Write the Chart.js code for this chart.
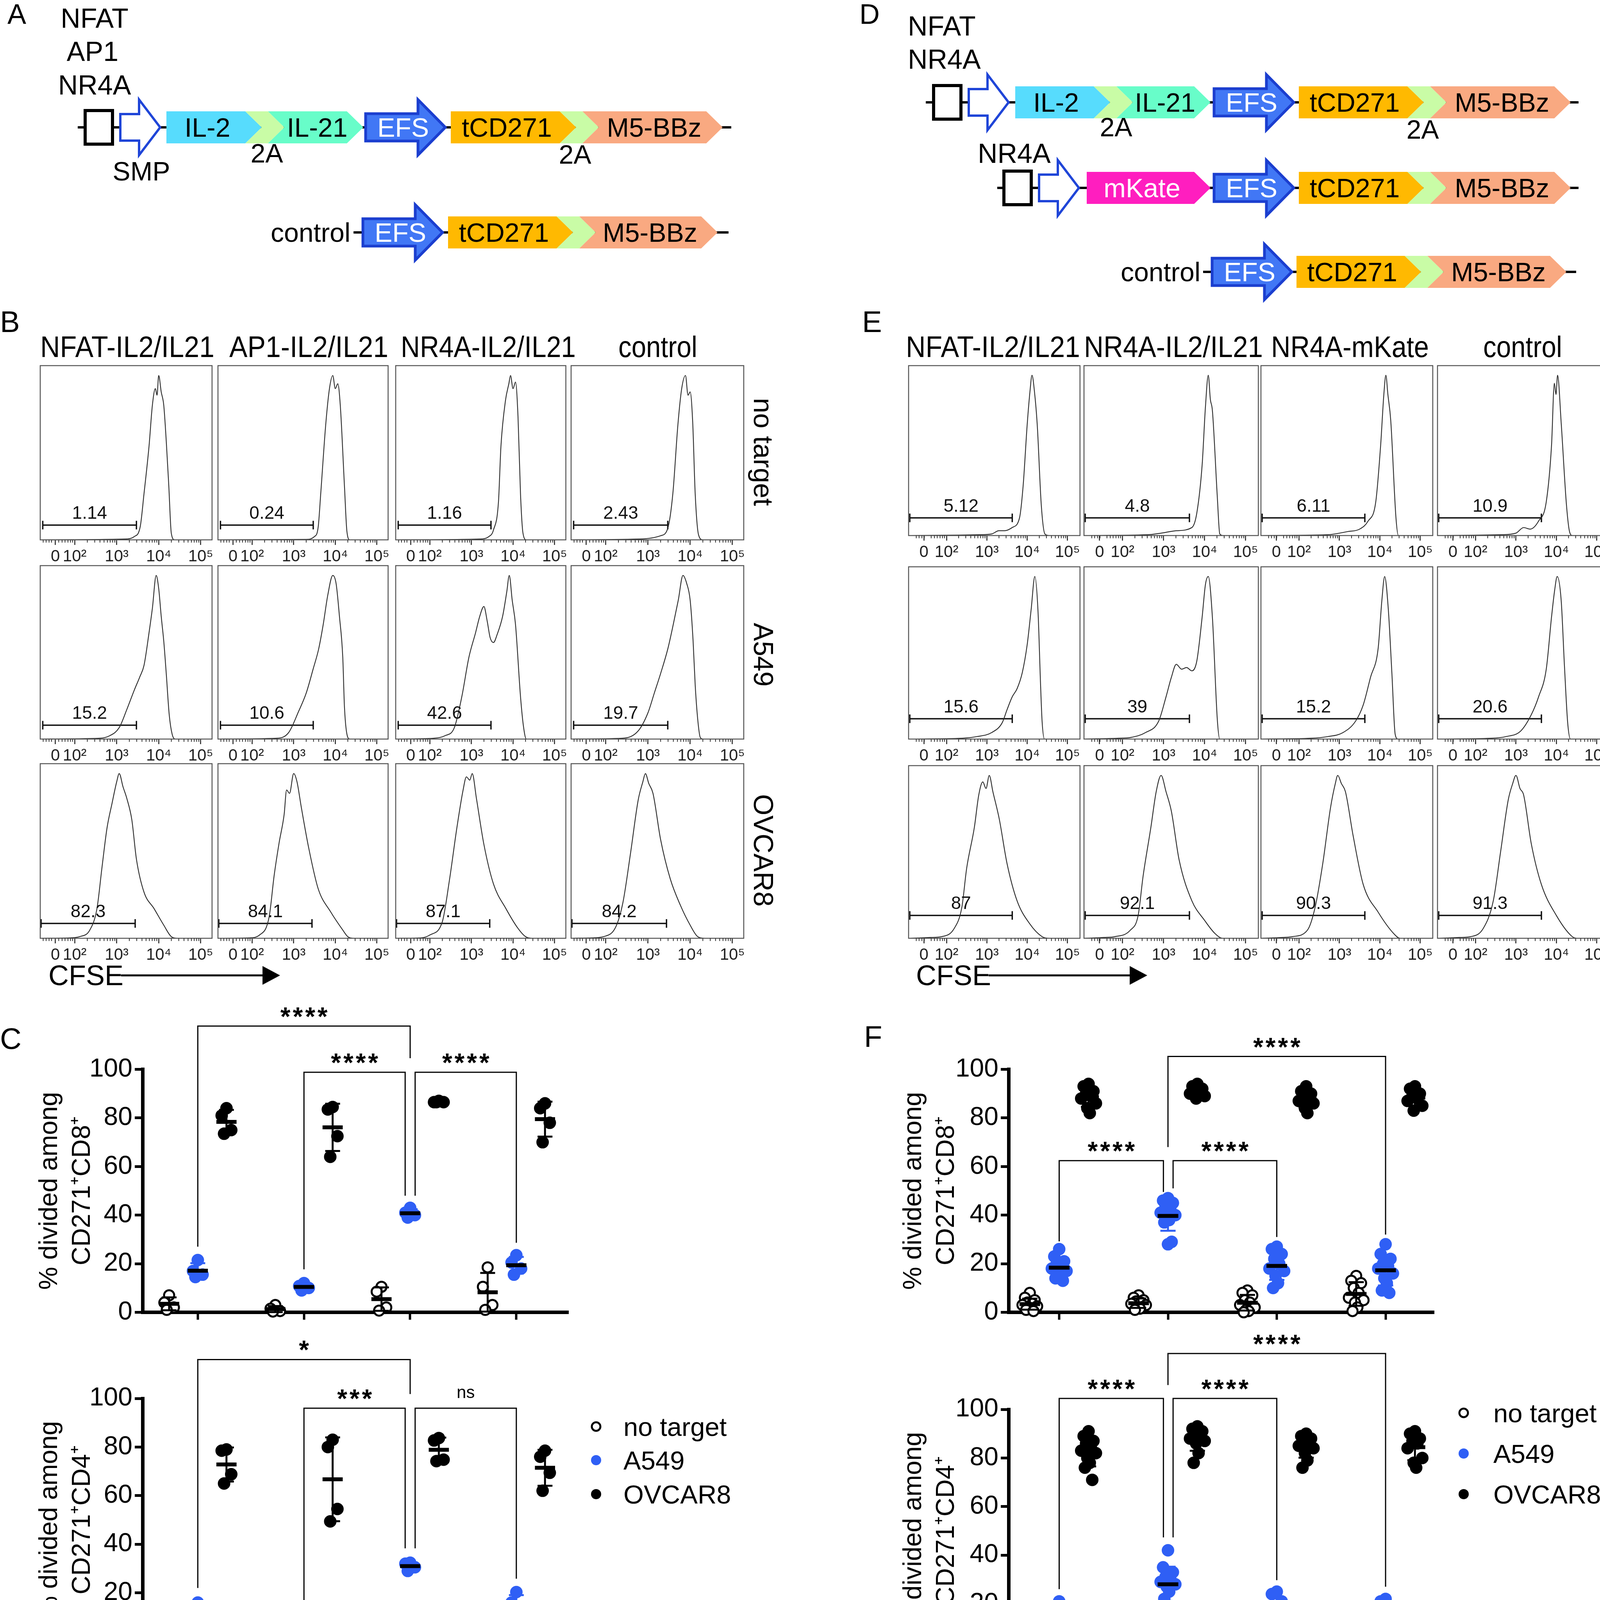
<!DOCTYPE html>
<html>
<head>
<meta charset="utf-8">
<script src="https://cdn.jsdelivr.net/npm/chart.js@4.4.1/dist/chart.umd.min.js"></script>
<style>
  body { margin: 0; background: #fff; }
  #page { position: relative; width: 4192px; height: 4626px; overflow: hidden; background: #fff; }
  #art { position: absolute; left: 0; top: 0; }
  #art text { font-family: 'Liberation Sans', Arial, Helvetica, sans-serif; }
</style>
</head>
<body>
<div id="page">
  <svg id="art" width="4192" height="4626" viewBox="0 0 4192 4626"></svg>
</div>
<script>
// ---------- data ----------
const colsB = ['NFAT-IL2/IL21', 'AP1-IL2/IL21', 'NR4A-IL2/IL21', 'control'];
const colsE = ['NFAT-IL2/IL21', 'NR4A-IL2/IL21', 'NR4A-mKate', 'control'];
const rowLabels = ['no target', 'A549', 'OVCAR8'];
const legendLabels = ['no target', 'A549', 'OVCAR8'];

const histTickLabels = ['0', '10²', '10³', '10⁴', '10⁵'];
const histTickPosB = [1.54, 2, 3, 4, 5];
const histTickPosE = [1.44, 2, 3, 4, 5];

const gateB = [['1.14', '0.24', '1.16', '2.43'], ['15.2', '10.6', '42.6', '19.7'], ['82.3', '84.1', '87.1', '84.2']];
const gateE = [['5.12', '4.8', '6.11', '10.9'], ['15.6', '39', '15.2', '20.6'], ['87', '92.1', '90.3', '91.3']];

// histogram traces, [CFSE decade position, % of mode]
const histB_noTarget = [
  [[1.2,0],[3.2,0.5],[3.42,2],[3.56,8],[3.65,28],[3.77,57],[3.85,82],[3.92,92],[3.96,88],[4.0,100],[4.06,90],[4.12,82],[4.18,60],[4.24,33],[4.3,4],[4.38,0],[5.27,0]],
  [[1.2,0],[3.3,0.3],[3.5,2],[3.59,8],[3.65,28],[3.77,70],[3.86,92],[3.94,100],[4.0,92],[4.06,95],[4.12,82],[4.22,33],[4.28,5],[4.35,0],[5.27,0]],
  [[1.2,0],[3.2,0.5],[3.42,2],[3.53,6],[3.65,23],[3.71,57],[3.82,85],[3.9,95],[3.94,100],[4.0,92],[4.06,96],[4.12,75],[4.18,28],[4.24,4],[4.32,0],[5.27,0]],
  [[1.2,0],[2.8,0.5],[3.3,2.5],[3.47,7],[3.59,28],[3.71,70],[3.8,92],[3.89,100],[3.95,88],[4.0,90],[4.06,72],[4.12,28],[4.2,3],[4.3,0],[5.27,0]]
];
const histB_a549 = [
  [[1.2,0],[2.6,0.5],[2.83,2],[3.06,7],[3.24,18],[3.42,30],[3.55,38],[3.65,45],[3.77,65],[3.85,80],[3.94,100],[4.0,92],[4.06,75],[4.12,60],[4.18,40],[4.25,15],[4.32,3],[4.4,0],[5.27,0]],
  [[1.2,0],[2.6,0.5],[2.88,4],[3.12,17],[3.3,28],[3.47,43],[3.6,55],[3.71,70],[3.82,88],[3.94,100],[4.02,95],[4.1,75],[4.18,50],[4.22,20],[4.28,3],[4.35,0],[5.27,0]],
  [[1.2,0],[2.1,0.5],[2.36,2],[2.59,7],[2.77,26],[2.94,50],[3.1,65],[3.2,75],[3.3,81],[3.38,72],[3.45,62],[3.53,59],[3.62,64],[3.75,75],[3.85,90],[3.91,100],[3.98,85],[4.06,70],[4.18,26],[4.25,8],[4.32,0],[5.27,0]],
  [[1.2,0],[2.4,0.5],[2.77,5],[3.0,16],[3.15,28],[3.3,40],[3.47,55],[3.6,70],[3.72,85],[3.83,100],[3.92,95],[4.0,85],[4.07,60],[4.12,33],[4.18,12],[4.24,1],[4.3,0],[5.27,0]]
];
const histB_ovcar8 = [
  [[1.2,0],[1.9,0.3],[2.12,1],[2.36,5],[2.53,18],[2.65,43],[2.77,67],[2.89,82],[3.0,95],[3.06,100],[3.15,92],[3.24,85],[3.36,72],[3.47,48],[3.65,28],[3.89,18],[4.12,8],[4.3,1],[4.45,0],[5.27,0]],
  [[1.2,0],[1.95,0.3],[2.18,2],[2.41,13],[2.53,38],[2.65,58],[2.77,75],[2.83,90],[2.9,88],[3.0,100],[3.08,95],[3.18,80],[3.36,55],[3.59,30],[3.89,16],[4.18,5],[4.3,1],[4.45,0],[5.27,0]],
  [[1.2,0],[1.8,0.3],[2.0,2],[2.3,10],[2.47,35],[2.65,67],[2.8,90],[2.88,98],[2.96,96],[3.02,100],[3.12,85],[3.3,57],[3.53,33],[3.83,18],[4.12,6],[4.3,1],[4.45,0],[5.27,0]],
  [[1.2,0],[1.7,0.3],[1.95,1],[2.24,7],[2.41,22],[2.59,52],[2.77,84],[2.88,95],[2.94,100],[3.02,94],[3.12,88],[3.3,60],[3.53,36],[3.77,20],[4.0,8],[4.18,1],[4.35,0],[5.27,0]]
];
const histE_noTarget = [
  [[1.08,0],[2.8,0.5],[3.12,1],[3.3,3],[3.44,3],[3.63,5],[3.81,11],[3.9,31],[4.0,69],[4.07,90],[4.12,100],[4.18,90],[4.25,69],[4.35,19],[4.44,1],[4.55,0],[5.31,0]],
  [[1.08,0],[2.6,0.5],[2.94,1.5],[3.31,3],[3.69,5],[3.81,14],[3.94,44],[4.02,80],[4.09,100],[4.14,85],[4.19,78],[4.31,24],[4.37,1],[4.45,0],[5.31,0]],
  [[1.08,0],[2.7,0.5],[3.21,2.5],[3.5,4],[3.71,9],[3.9,21],[4.02,56],[4.1,88],[4.15,100],[4.2,88],[4.27,72],[4.4,11],[4.46,0],[5.31,0]],
  [[1.08,0],[2.62,0.5],[3.0,1.5],[3.19,5],[3.35,4],[3.56,9],[3.75,21],[3.88,56],[3.95,95],[3.99,88],[4.03,100],[4.12,70],[4.25,19],[4.33,2],[4.4,0],[5.31,0]]
];
const histE_a549 = [
  [[1.08,0],[2.4,0.5],[2.75,1.5],[3.12,4],[3.38,10],[3.5,18],[3.63,26],[3.75,31],[3.88,41],[4.0,58],[4.1,80],[4.19,100],[4.27,78],[4.33,35],[4.37,11],[4.43,0],[5.31,0]],
  [[1.08,0],[1.9,0.5],[2.2,1],[2.56,4],[2.88,11],[3.06,26],[3.19,38],[3.31,46],[3.44,43],[3.56,44],[3.69,42],[3.81,48],[3.94,75],[4.02,95],[4.09,100],[4.19,75],[4.31,12],[4.37,0],[5.31,0]],
  [[1.08,0],[2.3,0.5],[2.71,1.5],[3.09,4],[3.4,11],[3.59,21],[3.77,38],[3.96,56],[4.05,85],[4.12,100],[4.21,80],[4.3,40],[4.38,3],[4.45,0],[5.31,0]],
  [[1.08,0],[2.4,0.5],[2.75,1.5],[3.12,5],[3.38,15],[3.56,26],[3.75,43],[3.88,75],[3.96,92],[4.02,100],[4.12,85],[4.2,45],[4.28,10],[4.35,0],[5.31,0]]
];
const histE_ovcar8 = [
  [[1.08,0],[1.6,0.5],[1.88,1],[2.19,6],[2.38,19],[2.5,43],[2.69,68],[2.8,88],[2.9,96],[2.98,92],[3.06,100],[3.15,90],[3.31,73],[3.5,46],[3.75,23],[4.06,9],[4.37,1],[4.55,0],[5.31,0]],
  [[1.08,0],[1.55,0.5],[1.81,1],[2.19,5],[2.38,14],[2.5,38],[2.69,68],[2.82,90],[2.94,100],[3.06,90],[3.19,78],[3.38,48],[3.69,23],[4.0,11],[4.25,3],[4.44,0],[5.31,0]],
  [[1.08,0],[1.6,0.5],[1.84,1],[2.21,5],[2.4,19],[2.59,46],[2.78,80],[2.9,95],[2.96,100],[3.05,95],[3.15,90],[3.34,63],[3.59,33],[3.96,16],[4.34,3],[4.5,0],[5.31,0]],
  [[1.08,0],[1.6,0.5],[1.88,1],[2.19,6],[2.44,23],[2.62,53],[2.81,85],[2.92,95],[3.0,100],[3.1,92],[3.19,88],[3.38,58],[3.63,33],[4.0,14],[4.37,1.5],[4.5,0],[5.31,0]]
];

// % divided, one list per construct (C: n=4, F: n≈10)
const cd8C_noTarget = [[7, 4, 2, 1], [3, 1.5, 0.5, 0.3], [10.5, 8.5, 2, 0.7], [18.5, 10.5, 3, 1]];
const cd8C_a549 = [[21.5, 17, 15.5, 14.5], [12, 10.8, 10, 9], [43, 41, 40, 39], [23.5, 20.5, 18, 15.5]];
const cd8C_ovcar8 = [[84, 81, 75, 73.5], [84.5, 83.5, 72.5, 64], [87, 86.5, 86.5, 86.5], [86, 84, 78, 70]];
const cd4C_noTarget = [[7, 5.8, 2.8, 0.4], [3.4, 1.6, 0.4, 0], [12.5, 8.8, 1, 0.4], [10.7, 8.8, 2.8, 0.4]];
const cd4C_a549 = [[16, 14.3, 11.3, 8.8], [8, 7, 6.5, 5.5], [32.4, 32, 30.5, 29], [20.3, 16, 14.3, 13.7]];
const cd4C_ovcar8 = [[79, 78.5, 68.8, 65], [83, 80, 54.5, 49.4], [83.7, 82.7, 74.8, 74.2], [78.5, 76, 69.4, 62]];

const cd8F_noTarget = [[8, 6, 5, 4, 3.5, 3, 2.5, 2, 1.5, 1, 0.5], [7, 6, 5, 4.5, 4, 3.5, 3, 2, 1.5, 1], [9, 8, 7, 5, 4, 3, 2, 1, 0.5, 0], [15, 13, 12, 10, 8, 6, 5, 4, 2, 0.5]];
const cd8F_a549 = [[26, 23, 21, 20, 19, 18, 17, 16, 15, 14, 13], [47, 46, 45, 44, 42, 41, 40, 39, 38, 37, 29, 28], [27, 26, 24, 22, 20, 18, 17, 15, 12, 10], [28, 24, 22, 20, 19, 18, 16, 14, 12, 9, 8]];
const cd8F_ovcar8 = [[94, 93, 91, 90, 89, 88, 86, 84, 82], [94, 93, 92, 91, 90, 90, 89, 88], [93, 91, 90, 89, 88, 87, 86, 84, 82], [93, 92, 90, 89, 88, 87, 85, 83]];
const cd4F_noTarget = [[6, 5, 4.5, 4, 3, 2.5, 2, 1.5, 1, 0.5], [7, 6, 4, 3, 2.5, 2, 1.5, 1, 0.5, 0.5], [9, 8, 7, 6, 5, 4, 3, 2, 1, 0], [15, 13, 11, 9, 7, 5, 4, 2, 1, 0]];
const cd4F_a549 = [[21, 16, 14, 13, 12, 11, 10, 9, 8, 6, 5], [42, 35, 33, 31, 30, 29, 28, 27, 25, 22, 19, 15], [25, 24, 21, 19, 17, 16, 15, 14, 13, 11], [22, 21, 19, 17, 15, 14, 13, 12, 11, 10, 8]];
const cd4F_ovcar8 = [[91, 89, 87, 86, 84, 83, 82, 80, 78, 76, 71], [93, 92, 91, 90, 89, 88, 87, 86, 82, 78], [90, 89, 88, 87, 86, 85, 84, 82, 79, 76], [91, 90, 88, 87, 86, 84, 80, 78, 76]];

// significance brackets: [from group, to group, bar level, left foot, right foot, label]
const bracketsC8 = [[1, 3, 117.8, 27, 104.6, '****'], [2, 2.953, 98.8, 17.7, 48, '****'], [3.047, 4, 98.8, 48, 28.6, '****']];
const bracketsC4 = [[1, 3, 116, 22, 101.8, '*'], [2, 2.953, 96, 13.3, 38.3, '***'], [3.047, 4, 96, 38.3, 25.8, 'ns']];
const bracketsF8 = [[2, 4, 105.3, 68, 32, '****'], [1, 1.958, 62.4, 29.2, 49.5, '****'], [2.047, 3, 62.4, 51, 31, '****']];
const bracketsF4 = [[2, 4, 123, 110, 27, '****'], [1, 1.958, 104.5, 26, 47.3, '****'], [2.047, 3, 104.5, 47.3, 29.7, '****']];

// ---------- static artwork (constructs, labels) ----------
const FONT = "'Liberation Sans', Arial, Helvetica, sans-serif";
const art = document.getElementById('art');
const page = document.getElementById('page');
function sv(tag, a, text) {
  const e = document.createElementNS('http://www.w3.org/2000/svg', tag);
  for (const k in a) e.setAttribute(k, a[k]);
  if (text !== undefined) e.textContent = text;
  art.appendChild(e);
  return e;
}
function label(x, y, s, size, extra) {
  return sv('text', Object.assign({x: x, y: y, 'font-size': size, fill: '#000'}, extra || {}), s);
}
function poly(pts, fill, stroke, sw) {
  const a = {points: pts.map(p => p.join(',')).join(' '), fill: fill};
  if (stroke) { a.stroke = stroke; a['stroke-width'] = sw; a['stroke-linejoin'] = 'miter'; }
  return sv('polygon', a);
}
const BH = 41, TIP = 42;
function block(x0, x1, cy, fill, name, notch, color) {
  const p = [[x0, cy - BH], [x1, cy - BH], [x1 + TIP, cy], [x1, cy + BH], [x0, cy + BH]];
  if (notch) p.push([x0 + TIP, cy]);
  poly(p, fill);
  if (name) label((x0 + (notch ? TIP : 0) + x1) / 2 + 4, cy + 24, name, 68, {'text-anchor': 'middle', fill: color || '#000'});
}
function twoA(x0, cy) { block(x0, x0 + 58, cy, '#c9fca6', null, true); }
function efs(x0, cy) {
  poly([[x0, cy - 35], [x0 + 134, cy - 35], [x0 + 134, cy - 71], [x0 + 204, cy], [x0 + 134, cy + 71], [x0 + 134, cy + 35], [x0, cy + 35]], '#4177f5', '#1b3ecf', 7);
  label(x0 + 96, cy + 24, 'EFS', 68, {'text-anchor': 'middle', fill: '#fff'});
}
function promoter(xb, cy) {
  sv('rect', {x: xb + 4, y: cy - 43, width: 70, height: 86, fill: '#fff', stroke: '#000', 'stroke-width': 8});
  poly([[xb + 94, cy - 34], [xb + 142, cy - 34], [xb + 142, cy - 71], [xb + 196, cy], [xb + 142, cy + 71], [xb + 142, cy + 34], [xb + 94, cy + 34]], '#fff', '#1f45d8', 6);
}
function baseLine(x0, x1, cy) { sv('line', {x1: x0, y1: cy, x2: x1, y2: cy, stroke: '#000', 'stroke-width': 6}); }

const IL2C = '#57dcfd', IL21C = '#68fdc9', TCD = '#ffb901', M5C = '#f9a981', MKATE = '#ff1ebf';

// panel A
label(19, 61, 'A', 72);
label(242, 71, 'NFAT', 70, {'text-anchor': 'middle'});
label(237, 156, 'AP1', 70, {'text-anchor': 'middle'});
label(242, 242, 'NR4A', 70, {'text-anchor': 'middle'});
baseLine(199, 1872, 326);
promoter(214, 326);
block(426, 628, 326, IL2C, 'IL-2');
twoA(628, 326);
block(686, 888, 326, IL21C, 'IL-21', true);
efs(936, 326);
block(1154, 1433, 326, TCD, 'tCD271');
twoA(1433, 326);
block(1491, 1808, 326, M5C, 'M5-BBz', true);
label(362, 462, 'SMP', 68, {'text-anchor': 'middle'});
label(683, 416, '2A', 68, {'text-anchor': 'middle'});
label(1472, 419, '2A', 68, {'text-anchor': 'middle'});
baseLine(905, 1865, 595);
label(897, 619, 'control', 68, {'text-anchor': 'end'});
efs(929, 595);
block(1147, 1425, 595, TCD, 'tCD271');
twoA(1425, 595);
block(1483, 1795, 595, M5C, 'M5-BBz', true);

// panel D
label(2200, 61, 'D', 72);
label(2324, 91, 'NFAT', 70);
label(2324, 176, 'NR4A', 70);
baseLine(2370, 4041, 262);
promoter(2386, 262);
block(2599, 2800, 262, IL2C, 'IL-2');
twoA(2800, 262);
block(2858, 3057, 262, IL21C, 'IL-21', true);
efs(3108, 262);
block(3325, 3603, 262, TCD, 'tCD271');
twoA(3603, 262);
block(3661, 3979, 262, M5C, 'M5-BBz', true);
label(2857, 349, '2A', 68, {'text-anchor': 'middle'});
label(3642, 355, '2A', 68, {'text-anchor': 'middle'});
label(2503, 417, 'NR4A', 70);
baseLine(2553, 4041, 481);
promoter(2566, 481);
block(2782, 3057, 481, MKATE, 'mKate', false, '#fff');
efs(3108, 481);
block(3325, 3603, 481, TCD, 'tCD271');
twoA(3603, 481);
block(3661, 3979, 481, M5C, 'M5-BBz', true);
baseLine(3080, 4035, 696);
label(3073, 720, 'control', 68, {'text-anchor': 'end'});
efs(3103, 696);
block(3319, 3596, 696, TCD, 'tCD271');
twoA(3596, 696);
block(3654, 3968, 696, M5C, 'M5-BBz', true);

// panel letters
label(0, 850, 'B', 76);
label(2207, 850, 'E', 76);
label(0, 2685, 'C', 76);
label(2212, 2680, 'F', 76);

// column headers (x, width)
const headB = [[103, 446], [587, 407], [1026, 448], [1583, 202]];
const headE = [[2319, 446], [2775, 458], [3254, 404], [3797, 202]];
colsB.forEach((s, i) => label(headB[i][0], 914, s, 76, {textLength: headB[i][1], lengthAdjust: 'spacingAndGlyphs'}));
colsE.forEach((s, i) => label(headE[i][0], 914, s, 76, {textLength: headE[i][1], lengthAdjust: 'spacingAndGlyphs'}));

// row labels (rotated)
const rowCy = [1157, 1676, 2177];
[1955, 4162].forEach(cx => rowLabels.forEach((s, i) => {
  label(cx, rowCy[i] + 25, s, 70, {'text-anchor': 'middle', transform: `rotate(90 ${cx} ${rowCy[i]})`});
}));

// CFSE arrows
function cfse(x, lineEnd, tip) {
  label(x, 2522, 'CFSE', 72);
  sv('line', {x1: x + 186, y1: 2497, x2: lineEnd, y2: 2497, stroke: '#000', 'stroke-width': 5});
  poly([[lineEnd - 8, 2473], [tip, 2497], [lineEnd - 8, 2521]], '#000');
}
cfse(124, 680, 717);
cfse(2345, 2900, 2937);

// legends
const legendFill = ['#fff', '#2f5ff5', '#000'];
function legend(mx, tx, ys) {
  ys.forEach((y, i) => {
    if (i === 0) sv('circle', {cx: mx, cy: y, r: 11, fill: '#fff', stroke: '#000', 'stroke-width': 5});
    else sv('circle', {cx: mx, cy: y, r: 13, fill: legendFill[i]});
    label(tx, y + 24, legendLabels[i], 67);
  });
}
legend(1526, 1596, [3652, 3738, 3825]);
legend(3747, 3823, [3617, 3721, 3825]);

// ---------- charts ----------
Chart.defaults.font.family = FONT;
Chart.defaults.color = '#000';

function makeCanvas(x, y, w, h) {
  const c = document.createElement('canvas');
  c.width = w; c.height = h;
  c.style.cssText = `position:absolute;left:${x}px;top:${y}px;width:${w}px;height:${h}px;`;
  page.appendChild(c);
  return c;
}

const linearMinor = [1.25, 1.32, 1.39, 1.45, 1.62, 1.7, 1.77, 1.84, 1.9, 1.95];
const histExtras = {
  id: 'histExtras',
  afterDraw(chart, args, o) {
    const {ctx, chartArea: a} = chart;
    const x = chart.scales.x, y = chart.scales.y;
    ctx.save();
    ctx.strokeStyle = '#555';
    ctx.lineWidth = 2.5;
    ctx.strokeRect(a.left, a.top, a.right - a.left, a.bottom - a.top);
    // minor ticks of the log axis
    const minors = linearMinor.slice();
    for (let d = 2; d <= 4; d++) for (let m = 2; m <= 9; m++) minors.push(d + Math.log10(m));
    ctx.strokeStyle = '#333';
    ctx.lineWidth = 2;
    ctx.beginPath();
    minors.forEach(v => {
      if (v <= x.min || v >= x.max) return;
      const px = x.getPixelForValue(v);
      ctx.moveTo(px, a.bottom);
      ctx.lineTo(px, a.bottom + 7);
    });
    ctx.stroke();
    ctx.fillStyle = '#111';
    ctx.font = `46px ${FONT}`;
    ctx.textAlign = 'center';
    ctx.textBaseline = 'bottom';
    ctx.fillText(o.label, x.getPixelForValue((o.g1 + o.g2) / 2), y.getPixelForValue(o.gy) - 6);
    ctx.restore();
  }
};

function histChart(x0, x1, y0, y1, pts, gate, axis) {
  const w = x1 - x0 + 4, h = y1 - y0 + 4 + 76;
  const cv = makeCanvas(x0 - 2, y0 - 2, w, h);
  new Chart(cv, {
    type: 'scatter',
    data: {
      datasets: [
        {data: pts, showLine: true, pointRadius: 0, borderColor: '#2a2a2a', borderWidth: 2.2, cubicInterpolationMode: 'monotone', fill: false},
        {data: [[gate.g1, gate.gy], [gate.g2, gate.gy]], showLine: true, borderColor: '#111', borderWidth: 3.5,
          pointStyle: 'line', pointRotation: 90, pointRadius: 11, pointBorderWidth: 3.5, pointBorderColor: '#111'}
      ]
    },
    options: {
      animation: false, responsive: false, devicePixelRatio: 1,
      layout: {padding: {left: 2, right: 2, top: 2, bottom: 0}, autoPadding: false},
      plugins: {legend: {display: false}, tooltip: {enabled: false}, histExtras: gate},
      scales: {
        x: {
          type: 'linear', min: axis.min, max: axis.max,
          afterBuildTicks: s => { s.ticks = axis.pos.map(v => ({value: v})); },
          afterFit: s => { s.height = 76; },
          border: {display: false},
          grid: {drawOnChartArea: false, drawTicks: true, tickLength: 13, tickWidth: 2.5, tickColor: '#222'},
          ticks: {autoSkip: false, maxRotation: 0, minRotation: 0, padding: 5, color: '#222', font: {size: 42},
            callback: (v, i) => histTickLabels[i]}
        },
        y: {display: false, min: 0, max: 106}
      }
    },
    plugins: [histExtras]
  });
}

const colXB = [[103, 549], [558, 1000], [1013, 1455], [1462, 1910]];
const rowYB = [[936, 1380], [1448, 1890], [1955, 2400]];
const colXE = [[2326, 2768], [2775, 3224], [3228, 3671], [3680, 4123]];
const rowYE = [[936, 1369], [1451, 1890], [1960, 2400]];
const histB = [histB_noTarget, histB_a549, histB_ovcar8];
const histE = [histE_noTarget, histE_a549, histE_ovcar8];
const gateYB = [9, 8.5, 9];
const gateYE = [11, 12.5, 14];
const axisB = {min: 1.18, max: 5.27, pos: histTickPosB};
const axisE = {min: 1.06, max: 5.31, pos: histTickPosE};

for (let r = 0; r < 3; r++) {
  for (let c = 0; c < 4; c++) {
    histChart(colXB[c][0], colXB[c][1], rowYB[r][0], rowYB[r][1], histB[r][c],
      {label: gateB[r][c], g1: r === 2 ? 1.2 : 1.24, g2: r === 2 ? 3.44 : 3.47, gy: gateYB[r]}, axisB);
    histChart(colXE[c][0], colXE[c][1], rowYE[r][0], rowYE[r][1], histE[r][c],
      {label: gateE[r][c], g1: 1.09, g2: 3.63, gy: gateYE[r]}, axisE);
  }
}

// dot plots
function mean(a) { return a.reduce((s, v) => s + v, 0) / a.length; }
function stdev(a) { const m = mean(a); return Math.sqrt(a.reduce((s, v) => s + (v - m) * (v - m), 0) / (a.length - 1)); }
const jit = [0, -1, 1, -0.5, 0.5, -1.5, 1.5, -0.25, 0.25, -0.75, 0.75, 0];
const OFF = [-0.27, 0, 0.27];
const BLUE = '#2f5ff5';

const dotExtras = {
  id: 'dotExtras',
  afterDatasetsDraw(chart, args, o) {
    const {ctx} = chart;
    const xs = chart.scales.x, ys = chart.scales.y;
    const px = v => xs.getPixelForValue(v), py = v => ys.getPixelForValue(v);
    ctx.save();
    o.series.forEach((vals4, si) => {
      vals4.forEach((vals, gi) => {
        const m = mean(vals), sd = stdev(vals), c = gi + 1 + OFF[si];
        const lo = Math.max(0, m - sd), hi = m + sd;
        ctx.strokeStyle = si === 1 ? BLUE : '#000';
        ctx.lineWidth = 5;
        ctx.beginPath();
        ctx.moveTo(px(c), py(lo)); ctx.lineTo(px(c), py(hi));
        ctx.moveTo(px(c - 0.07), py(hi)); ctx.lineTo(px(c + 0.07), py(hi));
        if (m - sd > 0) { ctx.moveTo(px(c - 0.07), py(lo)); ctx.lineTo(px(c + 0.07), py(lo)); }
        ctx.stroke();
        ctx.strokeStyle = '#000';
        ctx.lineWidth = 10;
        ctx.beginPath();
        ctx.moveTo(px(c - 0.095), py(m)); ctx.lineTo(px(c + 0.095), py(m));
        ctx.stroke();
      });
    });
    ctx.strokeStyle = '#000';
    ctx.lineWidth = 3;
    ctx.fillStyle = '#000';
    ctx.textAlign = 'center';
    ctx.textBaseline = 'alphabetic';
    o.brackets.forEach(b => {
      ctx.beginPath();
      ctx.moveTo(px(b[0]), py(b[3]));
      ctx.lineTo(px(b[0]), py(b[2]));
      ctx.lineTo(px(b[1]), py(b[2]));
      ctx.lineTo(px(b[1]), py(b[4]));
      ctx.stroke();
      const mx = px((b[0] + b[1]) / 2);
      if (b[5] === 'ns') {
        ctx.font = `44px ${FONT}`;
        ctx.letterSpacing = '0px';
        ctx.fillText(b[5], mx, py(b[2]) - 26);
      } else {
        ctx.font = `bold 66px ${FONT}`;
        ctx.letterSpacing = '6px';
        ctx.fillText(b[5], mx + 3, py(b[2]) - 2);
      }
    });
    ctx.restore();
  }
};

function pointsOf(vals4, si, spread) {
  const out = [];
  vals4.forEach((vals, gi) => vals.forEach((v, k) => out.push({x: gi + 1 + OFF[si] + jit[k % jit.length] * spread, y: v})));
  return out;
}

function dotChart(spec) {
  const cv = makeCanvas(spec.left, spec.top, spec.w, spec.h);
  const series = [spec.nt, spec.a549, spec.ov];
  const xH = spec.h - spec.padTop - 622;
  new Chart(cv, {
    type: 'scatter',
    data: {
      datasets: [
        {data: pointsOf(spec.nt, 0, spec.spread), pointRadius: 13, pointBorderWidth: 5, pointBackgroundColor: '#fff', pointBorderColor: '#000', clip: false},
        {data: pointsOf(spec.a549, 1, spec.spread), pointRadius: 16, pointBorderWidth: 0, pointBackgroundColor: BLUE, pointBorderColor: BLUE, clip: false},
        {data: pointsOf(spec.ov, 2, spec.spread), pointRadius: 16, pointBorderWidth: 0, pointBackgroundColor: '#000', pointBorderColor: '#000', clip: false}
      ]
    },
    options: {
      animation: false, responsive: false, devicePixelRatio: 1,
      layout: {padding: {left: 0, right: spec.padRight, top: spec.padTop, bottom: 0}, autoPadding: false},
      plugins: {legend: {display: false}, tooltip: {enabled: false}, dotExtras: {series: series, brackets: spec.brackets}},
      scales: {
        x: {
          type: 'linear', min: spec.xmin, max: spec.xmax,
          afterBuildTicks: s => { s.ticks = [1, 2, 3, 4].map(v => ({value: v})); },
          afterFit: s => { s.height = xH; },
          border: {display: true, width: 9, color: '#000'},
          grid: {drawOnChartArea: false, drawTicks: true, tickLength: 19, tickWidth: 6, tickColor: '#000'},
          ticks: {display: spec.showLabels, autoSkip: false, maxRotation: 45, minRotation: 45, padding: 10,
            font: {size: 70, style: 'italic'}, color: '#000', callback: (v, i) => spec.groups[i]}
        },
        y: {
          min: 0, max: 100,
          afterFit: s => { s.width = spec.yW; },
          border: {display: true, width: 9, color: '#000'},
          grid: {drawOnChartArea: false, drawTicks: true, tickLength: 20, tickWidth: 7, tickColor: '#000'},
          ticks: {stepSize: 20, padding: 6, font: {size: 66}, color: '#000'},
          title: {display: true, text: spec.title, color: '#000', font: {size: 66, lineHeight: 1.27}, padding: {top: spec.titlePad, bottom: 0}}
        }
      }
    },
    plugins: [dotExtras]
  });
}

dotChart({left: 0, top: 2500, w: 1500, h: 940, padTop: 237.5, padRight: 45, yW: 365, titlePad: 86,
  xmin: 0.48, xmax: 4.49, spread: 0.045, showLabels: false, groups: colsB,
  title: ['% divided among', 'CD271⁺CD8⁺'], nt: cd8C_noTarget, a549: cd8C_a549, ov: cd8C_ovcar8, brackets: bracketsC8});
dotChart({left: 0, top: 3400, w: 1500, h: 1226, padTop: 180, padRight: 45, yW: 365, titlePad: 86,
  xmin: 0.48, xmax: 4.49, spread: 0.045, showLabels: true, groups: colsB,
  title: ['% divided among', 'CD271⁺CD4⁺'], nt: cd4C_noTarget, a549: cd4C_a549, ov: cd4C_ovcar8, brackets: bracketsC4});
dotChart({left: 2150, top: 2500, w: 1560, h: 940, padTop: 237.5, padRight: 39, yW: 432, titlePad: 148,
  xmin: 0.535, xmax: 4.445, spread: 0.045, showLabels: false, groups: colsE,
  title: ['% divided among', 'CD271⁺CD8⁺'], nt: cd8F_noTarget, a549: cd8F_a549, ov: cd8F_ovcar8, brackets: bracketsF8});
dotChart({left: 2150, top: 3360, w: 1560, h: 1266, padTop: 248, padRight: 39, yW: 432, titlePad: 148,
  xmin: 0.535, xmax: 4.445, spread: 0.045, showLabels: true, groups: colsE,
  title: ['% divided among', 'CD271⁺CD4⁺'], nt: cd4F_noTarget, a549: cd4F_a549, ov: cd4F_ovcar8, brackets: bracketsF4});
</script>
</body>
</html>
